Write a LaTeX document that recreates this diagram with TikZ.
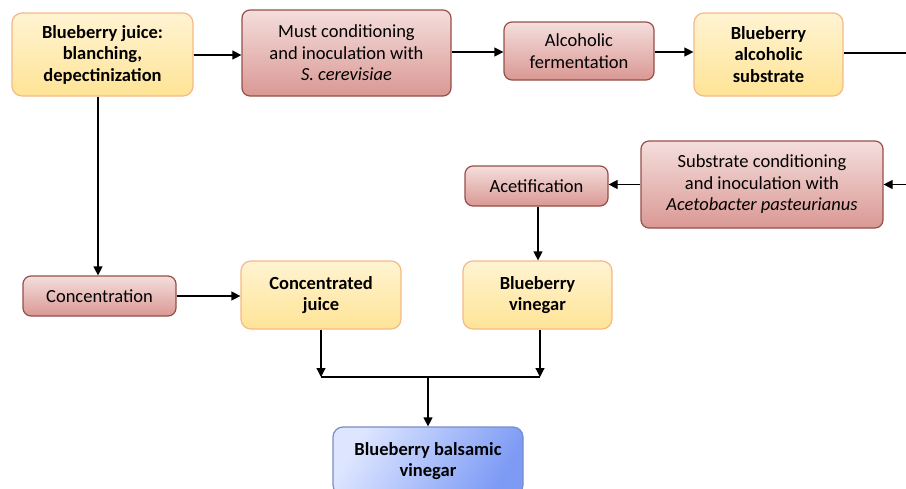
\documentclass[tikz,border=0pt]{standalone}
\usepackage{fontspec}
\setmainfont{Carlito}
\usetikzlibrary{arrows,arrows.meta}

\definecolor{ProdTop}{RGB}{255,243,210}
\definecolor{ProdBot}{RGB}{255,228,150}
\definecolor{ProdLine}{RGB}{245,185,135}
\definecolor{StepTop}{RGB}{244,222,220}
\definecolor{StepBot}{RGB}{218,152,148}
\definecolor{StepLine}{RGB}{150,78,72}
\definecolor{FinalDark}{RGB}{125,155,245}
\definecolor{FinalLight}{RGB}{222,230,255}
\definecolor{FinalLine}{RGB}{120,140,200}

\newcommand{\boxfont}{\fontsize{18.5}{21.5}\selectfont}

\tikzset{
  product/.style={draw=ProdLine, line width=1.2pt, rounded corners=10pt,
    top color=ProdTop, bottom color=ProdBot, align=center, font=\boxfont\bfseries,
    inner sep=0pt},
  process/.style={draw=StepLine, line width=1.2pt, rounded corners=8pt,
    top color=StepTop, bottom color=StepBot, align=center, font=\boxfont,
    inner sep=0pt},
  final/.style={draw=FinalLine, line width=1.2pt, rounded corners=10pt,
    shading=axis, left color=FinalLight, right color=FinalDark, shading angle=60,
    align=center, font=\boxfont\bfseries, inner sep=0pt},
}

\begin{document}
\begin{tikzpicture}[x=1pt, y=-1pt, >={Triangle[length=9pt,width=9pt]},
  line width=1.2pt]
\useasboundingbox (0,0) rectangle (906,488);
\clip (0,0) rectangle (906,488);

\node[product, minimum width=181pt, minimum height=83pt] (BlueberryJuice) at (102.5,54.5) {Blueberry juice:\\blanching,\\depectinization};
\node[process, minimum width=209pt, minimum height=86pt] (MustConditioning) at (346.5,53) {Must conditioning\\and inoculation with\\\textit{S. cerevisiae}};
\node[process, minimum width=150pt, minimum height=58pt] (AlcoholicFermentation) at (579,51) {Alcoholic\\fermentation};
\node[product, minimum width=149pt, minimum height=83pt] (AlcoholicSubstrate) at (768.5,54.5) {Blueberry\\alcoholic\\substrate};
\node[process, minimum width=242pt, minimum height=87pt] (SubstrateConditioning) at (762,184.5) {Substrate conditioning\\and inoculation with\\\textit{Acetobacter pasteurianus}};
\node[process, minimum width=143pt, minimum height=40pt] (Acetification) at (536.5,186) {Acetification};
\node[product, minimum width=149pt, minimum height=68pt] (BlueberryVinegar) at (537.5,295) {Blueberry\\vinegar};
\node[product, minimum width=160pt, minimum height=68pt] (ConcentratedJuice) at (321,295) {Concentrated\\juice};
\node[process, minimum width=153pt, minimum height=40pt] (Concentration) at (99.5,296) {Concentration};
\node[final, minimum width=190pt, minimum height=68pt] (BalsamicVinegar) at (428,461) {Blueberry balsamic\\vinegar};

\coordinate (RightTurn) at (930,53);
\coordinate (JointLeft) at (321,377);
\coordinate (JointRight) at (540,377);
\coordinate (Joint) at (428,377);

\draw[->] (BlueberryJuice.east |- 0,55) to (MustConditioning.west |- 0,55);
\draw[->] (MustConditioning.east |- 0,52) to (AlcoholicFermentation.west |- 0,52);
\draw[->] (AlcoholicFermentation.east |- 0,52) to (AlcoholicSubstrate.west |- 0,52);
\draw[->] (AlcoholicSubstrate.east |- 0,53) -- (RightTurn) |- (SubstrateConditioning.east);
\draw[->] (SubstrateConditioning.west) to (Acetification.east |- SubstrateConditioning.west);
\draw[->] (Acetification.south -| 538,0) to (BlueberryVinegar.north -| 538,0);
\draw[->] (BlueberryJuice.south -| 98,0) to (Concentration.north -| 98,0);
\draw[->] (Concentration.east) to (ConcentratedJuice.west |- Concentration.east);

\draw[->] (ConcentratedJuice.south) to (JointLeft);
\draw[->] (BlueberryVinegar.south -| JointRight) to (JointRight);
\draw (JointLeft) -- (JointRight);
\draw[->] (Joint) to (BalsamicVinegar.north);
\end{tikzpicture}
\end{document}
